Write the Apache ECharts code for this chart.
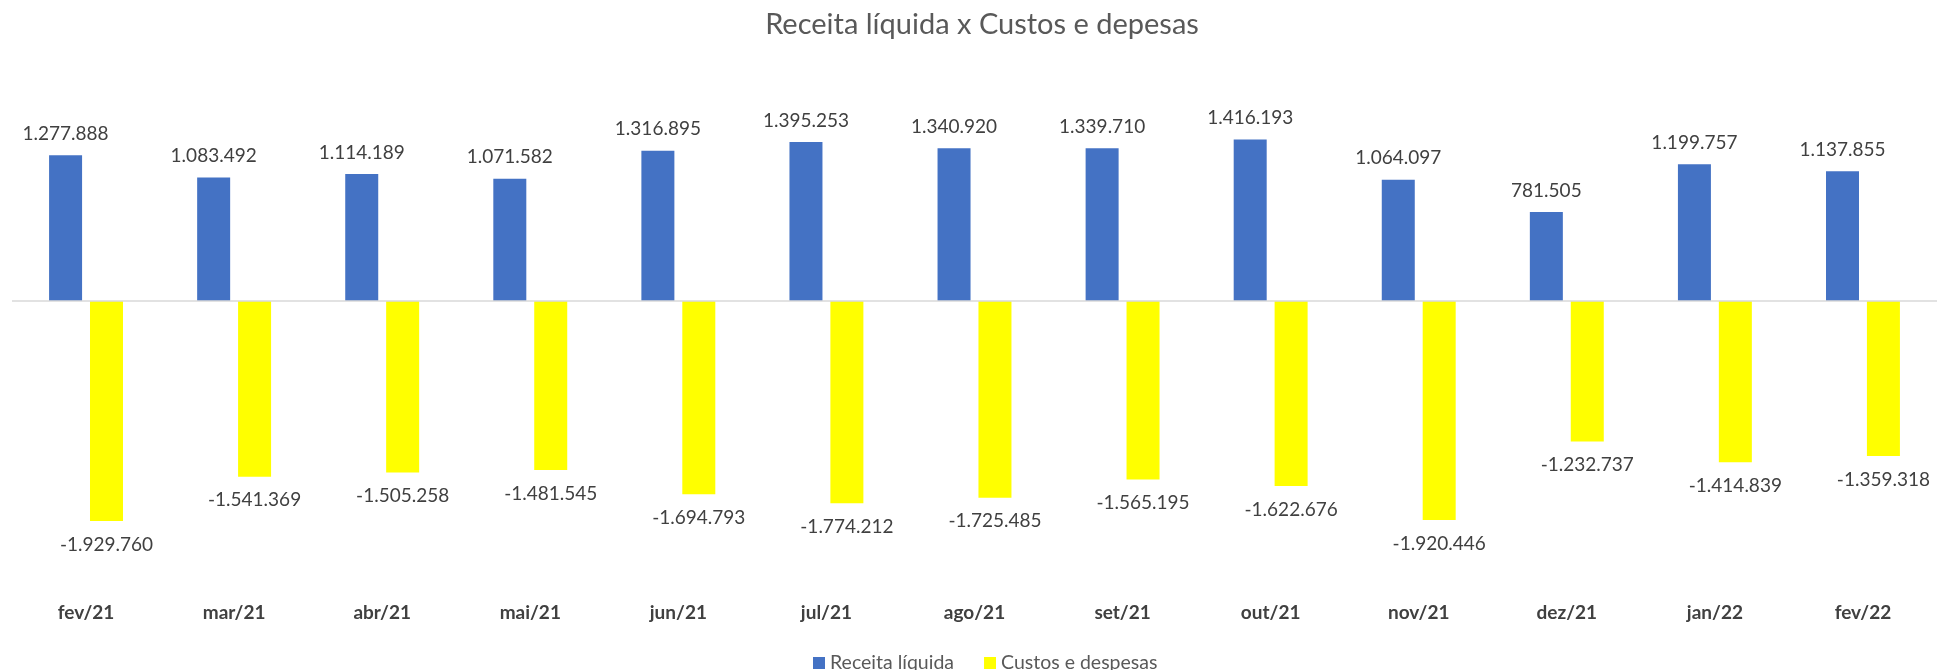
<!DOCTYPE html>
<html>
<head>
<meta charset="utf-8">
<script src="https://cdn.jsdelivr.net/npm/echarts@6/dist/echarts.min.js"></script>
<style>
  html, body { margin: 0; padding: 0; background: #ffffff; }
  #chart { width: 1937px; height: 670px; }
</style>
</head>
<body>
<div id="chart"></div>
<script>
var months = ['fev/21', 'mar/21', 'abr/21', 'mai/21', 'jun/21', 'jul/21', 'ago/21',
  'set/21', 'out/21', 'nov/21', 'dez/21', 'jan/22', 'fev/22'];
var receita = [1277888, 1083492, 1114189, 1071582, 1316895, 1395253, 1340920,
  1339710, 1416193, 1064097, 781505, 1199757, 1137855];
var custos = [-1929760, -1541369, -1505258, -1481545, -1694793, -1774212, -1725485,
  -1565195, -1622676, -1920446, -1232737, -1414839, -1359318];

function fmt(v) {
  var s = String(Math.abs(v)).replace(/\B(?=(\d{3})+(?!\d))/g, '.');
  return (v < 0 ? '-' : '') + s;
}

var chart = echarts.init(document.getElementById('chart'));

var option = {
  backgroundColor: '#ffffff',
  textStyle: { fontFamily: 'Lato' },
  title: {
    text: 'Receita líquida x Custos e depesas',
    left: 977,
    textAlign: 'center',
    top: 5,
    textStyle: { fontFamily: 'Lato', fontSize: 29, fontWeight: 'normal', color: '#595959' }
  },
  legend: {
    data: ['Receita líquida', 'Custos e despesas'],
    left: 808,
    top: 648,
    icon: 'rect',
    itemWidth: 12,
    itemHeight: 12,
    itemGap: 30,
    textStyle: { fontFamily: 'Lato', fontSize: 19.5, color: '#595959' }
  },
  grid: { left: 12, top: 73, width: 1928, height: 513 },
  xAxis: {
    type: 'category',
    data: months,
    axisLine: { show: false, onZero: false },
    axisTick: { show: false },
    axisLabel: { margin: 17, fontFamily: 'Lato', fontSize: 19, fontWeight: 'bold', color: '#404040' }
  },
  yAxis: {
    type: 'value',
    min: -2500000,
    max: 2000000,
    interval: 500000,
    show: false,
    splitLine: { show: false }
  },
  series: [
    {
      name: 'Receita líquida',
      type: 'bar',
      data: receita,
      barWidth: 33,
      barGap: '24%',
      itemStyle: { color: '#4472C4' },
      label: {
        show: true,
        position: 'top',
        distance: 12,
        fontFamily: 'Lato',
        fontSize: 19,
        color: '#404040',
        formatter: function (p) { return fmt(p.value); }
      },
      markLine: {
        silent: true,
        symbol: 'none',
        label: { show: false },
        lineStyle: { color: '#d9d9d9', type: 'solid', width: 1.5 },
        data: [{ yAxis: 0 }]
      }
    },
    {
      name: 'Custos e despesas',
      type: 'bar',
      data: custos,
      barWidth: 33,
      itemStyle: { color: '#FFFF00' },
      label: {
        show: true,
        position: 'bottom',
        distance: 14,
        fontFamily: 'Lato',
        fontSize: 19,
        color: '#404040',
        formatter: function (p) { return fmt(p.value); }
      }
    }
  ]
};

chart.setOption(option);
</script>
</body>
</html>
